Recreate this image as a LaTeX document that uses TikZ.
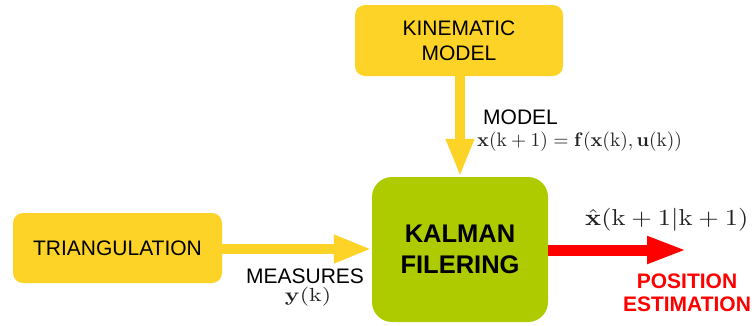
\documentclass[tikz,border=0pt]{standalone}
\usepackage{graphicx}
\usepackage[no-math]{fontspec}
\setmainfont{Liberation Sans}
\usetikzlibrary{arrows.meta}

\definecolor{boxyellow}{HTML}{FDD327}
\definecolor{kalgreen}{HTML}{AECB00}
\definecolor{outred}{HTML}{FF0000}
\definecolor{mathgray}{HTML}{222222}

\tikzset{
  inputbox/.style={fill=boxyellow, rounded corners=10pt, inner sep=0pt,
    align=center, font=\fontsize{21}{25}\selectfont},
  filterbox/.style={fill=kalgreen, rounded corners=20pt, inner sep=0pt,
    align=center, font=\fontsize{25.5}{30.5}\selectfont\bfseries},
  fatyellow/.style={draw=boxyellow, line width=10pt,
    -{Triangle[length=38pt,width=26pt]}},
  fatred/.style={draw=outred, line width=11pt,
    -{Triangle[length=40pt,width=25pt]}},
  plainlabel/.style={inner sep=0pt, font=\fontsize{21}{25}\selectfont},
  mathlabel/.style={inner sep=0pt, text=mathgray},
  outlabel/.style={inner sep=0pt, align=center, text=outred,
    font=\fontsize{21}{22.5}\selectfont\bfseries}
}

\begin{document}
\begin{tikzpicture}[x=1pt,y=-1pt]
  \useasboundingbox (0,0) rectangle (752,325);

  % blocks
  \node[inputbox, minimum width=208pt, minimum height=71pt] (kin) at (459,40.5)
    {KINEMATIC\\MODEL};
  \node[inputbox, minimum width=209pt, minimum height=70pt] (tri) at (117.5,248)
    {TRIANGULATION};
  \node[filterbox, minimum width=176pt, minimum height=145pt] (kal) at (460,249.5)
    {KALMAN\\FILERING};
  \coordinate (out) at (687,250);

  % signal flow
  \draw[fatyellow] (kin.south -| kal.north) -- (kal.north);
  \draw[fatyellow] (tri.east |- 0,249) -- (kal.west |- 0,249);
  \draw[fatred] (kal.east |- out) -- (out);

  % annotations
  \node[plainlabel, anchor=west] (modlbl) at (483,117) {MODEL};
  \node[mathlabel, anchor=west] (modeq) at (477,142)
    {\scalebox{1.95}{$\mathbf{x}(\mathrm{k}+1)=\mathbf{f}(\mathbf{x}(\mathrm{k}),\mathbf{u}(\mathrm{k}))$}};
  \node[plainlabel] (meslbl) at (305,276) {MEASURES};
  \node[mathlabel] (meseq) at (308,297)
    {\scalebox{2.4}[1.9]{$\mathbf{y}(\mathrm{k})$}};
  \node[mathlabel, anchor=west] (esteq) at (585,220)
    {\scalebox{2.65}[2.3]{$\hat{\mathbf{x}}(\mathrm{k}+1|\mathrm{k}+1)$}};
  \node[outlabel] (estlbl) at (687,293) {POSITION\\ESTIMATION};
\end{tikzpicture}
\end{document}
